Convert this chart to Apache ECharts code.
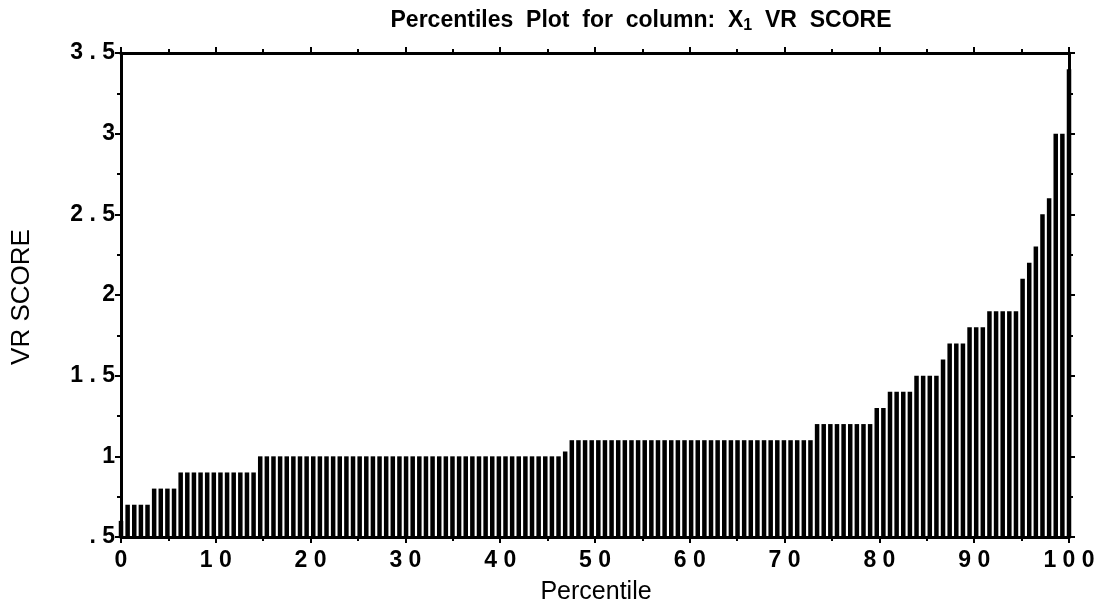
<!DOCTYPE html>
<html>
<head>
<meta charset="utf-8">
<script src="https://cdn.jsdelivr.net/npm/echarts@6/dist/echarts.min.js"></script>
<style>
html,body{margin:0;padding:0;background:#fff;}
#chart{width:1104px;height:606px;}
</style>
</head>
<body>
<div id="chart"></div>
<script>
// Sorted VR SCORE sample values
const scores = [
  0.6,
  0.7, 0.7, 0.7, 0.7,
  0.8, 0.8, 0.8, 0.8,
  0.9, 0.9, 0.9, 0.9, 0.9, 0.9, 0.9, 0.9, 0.9, 0.9, 0.9, 0.9,
  1.0, 1.0, 1.0, 1.0, 1.0, 1.0, 1.0, 1.0, 1.0, 1.0,
  1.0, 1.0, 1.0, 1.0, 1.0, 1.0, 1.0, 1.0, 1.0, 1.0,
  1.0, 1.0, 1.0, 1.0, 1.0, 1.0, 1.0, 1.0, 1.0, 1.0,
  1.0, 1.0, 1.0, 1.0, 1.0, 1.0, 1.0, 1.0, 1.0, 1.0,
  1.0, 1.0, 1.0, 1.0, 1.0, 1.0,
  1.03,
  1.1, 1.1, 1.1, 1.1, 1.1, 1.1, 1.1, 1.1, 1.1, 1.1,
  1.1, 1.1, 1.1, 1.1, 1.1, 1.1, 1.1, 1.1, 1.1, 1.1,
  1.1, 1.1, 1.1, 1.1, 1.1, 1.1, 1.1, 1.1, 1.1, 1.1,
  1.1, 1.1, 1.1, 1.1, 1.1, 1.1, 1.1,
  1.2, 1.2, 1.2, 1.2, 1.2, 1.2, 1.2, 1.2, 1.2,
  1.3, 1.3,
  1.4, 1.4, 1.4, 1.4,
  1.5, 1.5, 1.5, 1.5,
  1.6,
  1.7, 1.7, 1.7,
  1.8, 1.8, 1.8,
  1.9, 1.9, 1.9, 1.9, 1.9,
  2.1, 2.2, 2.3, 2.5, 2.6,
  3.0, 3.0,
  3.4
];
const xTicks = [0, 10, 20, 30, 40, 50, 60, 70, 80, 90, 100];
const yTicks = [0.5, 1, 1.5, 2, 2.5, 3, 3.5];
const titleText = 'Percentiles  Plot  for  column:  X{sub|1}  VR  SCORE';
const xName = 'Percentile';
const yName = 'VR SCORE';

// percentile position of each sorted value
const pts = scores.map((v, i) => [i * 100 / (scores.length - 1), v]);

const chart = echarts.init(document.getElementById('chart'));
const FONT = 'Liberation Sans, Arial, sans-serif';
const axisLineStyle = { color: '#000', width: 3 };
const tickStyle = { color: '#000', width: 2 };
const labelFont = { color: '#000', fontFamily: FONT, fontWeight: 'bold', fontSize: 23 };

function xAx(pos, showLabel) {
  return {
    type: 'value', position: pos, min: 0, max: 100, interval: 10,
    axisLine: { show: true, onZero: false, lineStyle: axisLineStyle },
    axisTick: { show: true, inside: false, length: 6, lineStyle: tickStyle },
    minorTick: { show: true, splitNumber: 2, length: 4, lineStyle: tickStyle },
    splitLine: { show: false },
    axisLabel: Object.assign({ show: showLabel, margin: 12, formatter: v => String(v).split('').join(' ') }, labelFont)
  };
}
function yAx(pos, showLabel) {
  return {
    type: 'value', position: pos, min: 0.5, max: 3.5, interval: 0.5,
    axisLine: { show: true, onZero: false, lineStyle: axisLineStyle },
    axisTick: { show: true, inside: false, length: 6, lineStyle: tickStyle },
    minorTick: { show: true, splitNumber: 2, length: 4, lineStyle: tickStyle },
    splitLine: { show: false },
    axisLabel: Object.assign({ show: showLabel, margin: 6,
      formatter: v => { let s = String(v); if (s.startsWith('0.')) s = s.slice(1); return s.split('').join(' '); } }, labelFont)
  };
}

chart.setOption({
  animation: false,
  backgroundColor: '#fff',
  title: {
    text: titleText, left: 636, textAlign: 'center', top: 3,
    textStyle: {
      color: '#000', fontFamily: FONT, fontWeight: 'bold', fontSize: 23,
      rich: { sub: { fontSize: 16, fontWeight: 'bold', color: '#000', padding: [10, 0, 0, 0], fontFamily: FONT } }
    }
  },
  grid: { left: 121, right: 35, top: 53, bottom: 69, containLabel: false },
  xAxis: [xAx('bottom', true), xAx('top', false)],
  yAxis: [yAx('left', true), yAx('right', false)],
  graphic: [
    { type: 'text', x: 596, y: 592, style: { text: xName, fill: '#000', font: '25px "Liberation Sans", Arial, sans-serif', textAlign: 'center', textVerticalAlign: 'middle' } },
    { type: 'text', x: 22, y: 297, rotation: Math.PI / 2, style: { text: yName, fill: '#000', font: '26px "Liberation Sans Narrow", "Liberation Sans", Arial, sans-serif', textAlign: 'center', textVerticalAlign: 'middle' } }
  ],
  series: [{
    type: 'bar', xAxisIndex: 0, yAxisIndex: 0,
    data: pts, barWidth: 4.5, clip: true,
    itemStyle: { color: '#000' }
  }]
});
</script>
</body>
</html>
